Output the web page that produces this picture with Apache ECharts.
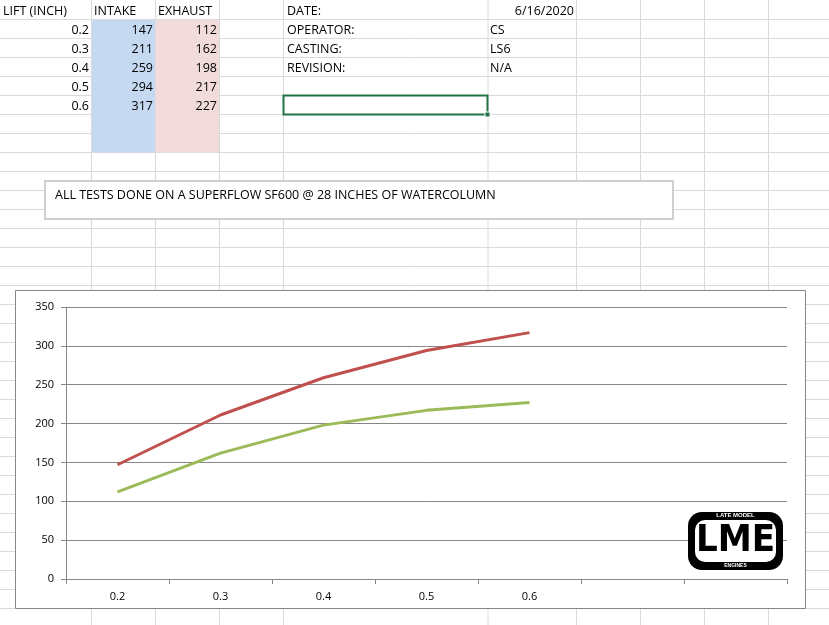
<!DOCTYPE html>
<html><head><meta charset="utf-8">
<script src="https://cdn.jsdelivr.net/npm/echarts@6/dist/echarts.min.js"></script>
<style>html,body{margin:0;padding:0;background:#fff}#main{width:829px;height:625px}</style>
</head><body><div id="main"></div>
<script>
var lifts = ['0.2', '0.3', '0.4', '0.5', '0.6'];
var intake = [147, 211, 259, 294, 317];
var exhaust = [112, 162, 198, 217, 227];
var axisCats = ['0.2', '0.3', '0.4', '0.5', '0.6', '', ''];
var infoLabels = ['DATE:', 'OPERATOR:', 'CASTING:', 'REVISION:'];
var infoValues = ['6/16/2020', 'CS', 'LS6', 'N/A'];

var chart = echarts.init(document.getElementById('main'));
var font = '"Liberation Sans Narrow", "Open Sans", sans-serif';
var g = [];
var colX = [91.5, 155.5, 219.5, 283.5, 488, 576.5, 640.5, 704.5, 768.5];
var rowH = 19;
// grid lines
colX.forEach(function (x) {
  g.push({type: 'line', shape: {x1: x, y1: 0, x2: x, y2: 625}, style: {stroke: '#dadada', lineWidth: 1}});
});
for (var r = 1; r < 33; r++) {
  var y = r * rowH + 0.5;
  g.push({type: 'line', shape: {x1: 0, y1: y, x2: 829, y2: y}, style: {stroke: '#dadada', lineWidth: 1}});
}
// sheet fills
g.push({type: 'rect', shape: {x: 92, y: 20, width: 63.5, height: 132.5}, style: {fill: '#c5d9f1'}});
g.push({type: 'rect', shape: {x: 155.5, y: 20, width: 63.5, height: 132.5}, style: {fill: '#f2dcdb'}});
function txt(x, y, s, align) {
  g.push({type: 'text', x: x, y: y, style: {text: s, fill: '#000', font: '12.5px ' + font, align: align || 'left', verticalAlign: 'middle'}});
}
txt(3, 11, 'LIFT (INCH)');
txt(94, 11, 'INTAKE');
txt(158, 11, 'EXHAUST');
lifts.forEach(function (v, i) {
  var y = 30 + i * rowH;
  txt(89, y, v, 'right');
  txt(153, y, String(intake[i]), 'right');
  txt(217, y, String(exhaust[i]), 'right');
});
infoLabels.forEach(function (v, i) {
  txt(287, 11 + i * rowH, v);
});
txt(574, 11, infoValues[0], 'right');
for (var k = 1; k < infoValues.length; k++) txt(490, 11 + k * rowH, infoValues[k]);
// selected cell
g.push({type: 'rect', shape: {x: 283.5, y: 95.5, width: 204, height: 19}, style: {fill: 'none', stroke: '#217346', lineWidth: 2}});
g.push({type: 'rect', shape: {x: 485, y: 112, width: 5, height: 5}, style: {fill: '#217346', stroke: '#fff', lineWidth: 1}});
// note box
g.push({type: 'rect', shape: {x: 45, y: 181, width: 628, height: 38}, style: {fill: '#fff', stroke: '#d0d0d0', lineWidth: 2}});
txt(55, 195, 'ALL TESTS DONE ON A SUPERFLOW SF600 @ 28 INCHES OF WATERCOLUMN');
// chart frame
g.push({type: 'rect', shape: {x: 15.5, y: 290.5, width: 790, height: 318}, style: {fill: '#fff', stroke: '#868686', lineWidth: 1}});
// logo
g.push({type: 'rect', z: 100, shape: {x: 688, y: 512, width: 95, height: 58, r: 14}, style: {fill: '#000'}});
g.push({type: 'rect', z: 101, shape: {x: 695, y: 520, width: 81, height: 42, r: 10}, style: {fill: '#fff'}});
g.push({type: 'text', z: 102, x: 735.5, y: 541, style: {text: 'LME', font: 'bold 38px "DejaVu Sans Condensed", sans-serif', fill: '#000', align: 'center', verticalAlign: 'middle'}});
g.push({type: 'text', z: 102, x: 735.5, y: 515.5, style: {text: 'LATE MODEL', font: 'bold 6px sans-serif', fill: '#fff', align: 'center', verticalAlign: 'middle'}});
g.push({type: 'text', z: 102, x: 735.5, y: 566, style: {text: 'ENGINES', font: 'bold 5px sans-serif', fill: '#fff', align: 'center', verticalAlign: 'middle'}});

var option = {
  backgroundColor: '#fff',
  animation: false,
  graphic: {elements: g},
  grid: {left: 66, right: 42, top: 307, bottom: 46},
  xAxis: {
    type: 'category',
    data: axisCats,
    axisLine: {lineStyle: {color: '#868686'}},
    axisTick: {show: true, interval: 0, length: 5, lineStyle: {color: '#868686'}},
    axisLabel: {color: '#000', fontFamily: font, fontSize: 11, margin: 12, interval: 0}
  },
  yAxis: {
    type: 'value', min: 0, max: 350, interval: 50,
    axisLine: {show: true, lineStyle: {color: '#868686'}},
    axisTick: {show: true, length: 5, lineStyle: {color: '#868686'}},
    axisLabel: {color: '#000', fontFamily: font, fontSize: 11, margin: 12},
    splitLine: {lineStyle: {color: '#868686'}}
  },
  series: [
    {name: 'INTAKE', type: 'line', data: intake, symbol: 'none', lineStyle: {color: '#c0504d', width: 3}, z: 3},
    {name: 'EXHAUST', type: 'line', data: exhaust, symbol: 'none', lineStyle: {color: '#9bbb59', width: 3}, z: 3}
  ]
};
chart.setOption(option);
</script></body></html>
